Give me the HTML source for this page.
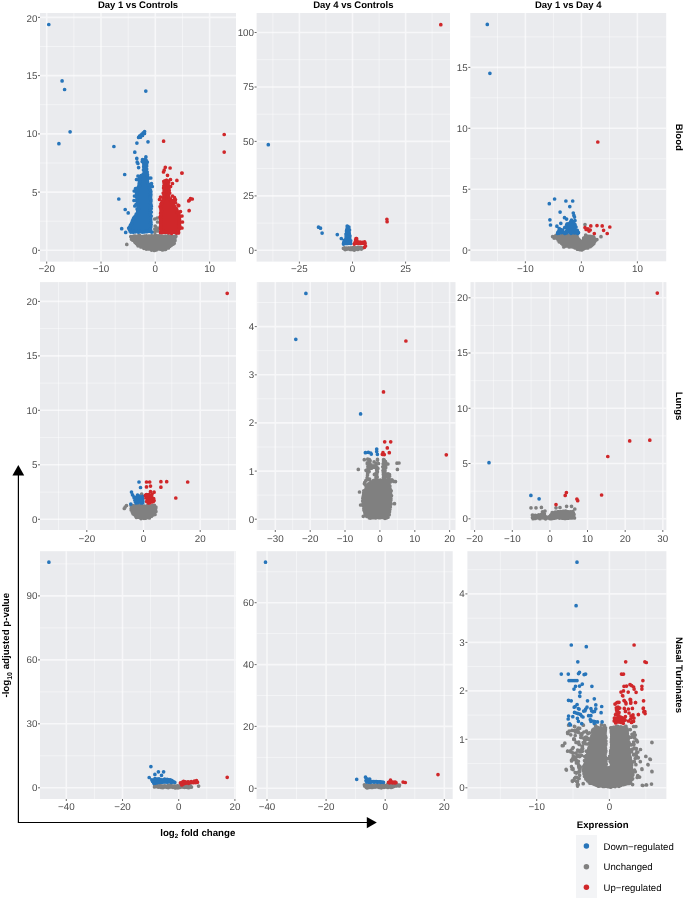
<!DOCTYPE html>
<html><head><meta charset="utf-8"><style>html,body{margin:0;padding:0;background:#fff;width:685px;height:899px;overflow:hidden}</style></head>
<body>
<svg width="685" height="899" viewBox="0 0 685 899" style="display:block;will-change:transform">
<rect width="685" height="899" fill="#fff"/>
<rect x="40" y="13" width="196" height="248.6" fill="#EAEBEE"/>
<path d="M73.9 13V261.6M128.2 13V261.6M182.5 13V261.6M40 221.2H236M40 163H236M40 104.7H236M40 46.5H236" stroke="#fff" stroke-opacity="0.45" stroke-width="1" fill="none"/>
<path d="M46.7 13V261.6M101 13V261.6M155.3 13V261.6M209.6 13V261.6M40 250.3H236M40 192.1H236M40 133.9H236M40 75.6H236M40 17.4H236" stroke="#fff" stroke-opacity="0.62" stroke-width="1.6" fill="none"/>
<path d="M46.7 261.6v2M101 261.6v2M155.3 261.6v2M209.6 261.6v2M40 250.3h-2M40 192.1h-2M40 133.9h-2M40 75.6h-2M40 17.4h-2" stroke="#444" stroke-width="0.8" fill="none"/>
<g font-family="Liberation Sans, sans-serif" font-size="9.8" fill="#4D4D4D" text-rendering="geometricPrecision">
<text x="46.7" y="272.1" text-anchor="middle">−20</text>
<text x="101" y="272.1" text-anchor="middle">−10</text>
<text x="155.3" y="272.1" text-anchor="middle">0</text>
<text x="209.6" y="272.1" text-anchor="middle">10</text>
<text x="37.4" y="253.7" text-anchor="end">0</text>
<text x="37.4" y="195.5" text-anchor="end">5</text>
<text x="37.4" y="137.3" text-anchor="end">10</text>
<text x="37.4" y="79" text-anchor="end">15</text>
<text x="37.4" y="22.3" text-anchor="end">20</text>
</g>
<rect x="256.6" y="13" width="193.4" height="248.6" fill="#EAEBEE"/>
<path d="M272.9 13V261.6M325.9 13V261.6M379.1 13V261.6M432.1 13V261.6M256.6 223.1H450M256.6 168.6H450M256.6 114.2H450M256.6 59.7H450" stroke="#fff" stroke-opacity="0.45" stroke-width="1" fill="none"/>
<path d="M299.4 13V261.6M352.5 13V261.6M405.6 13V261.6M256.6 250.3H450M256.6 195.9H450M256.6 141.4H450M256.6 87H450M256.6 32.5H450" stroke="#fff" stroke-opacity="0.62" stroke-width="1.6" fill="none"/>
<path d="M299.4 261.6v2M352.5 261.6v2M405.6 261.6v2M256.6 250.3h-2M256.6 195.9h-2M256.6 141.4h-2M256.6 87h-2M256.6 32.5h-2" stroke="#444" stroke-width="0.8" fill="none"/>
<g font-family="Liberation Sans, sans-serif" font-size="9.8" fill="#4D4D4D" text-rendering="geometricPrecision">
<text x="299.4" y="272.1" text-anchor="middle">−25</text>
<text x="352.5" y="272.1" text-anchor="middle">0</text>
<text x="405.6" y="272.1" text-anchor="middle">25</text>
<text x="254" y="253.7" text-anchor="end">0</text>
<text x="254" y="199.3" text-anchor="end">25</text>
<text x="254" y="144.8" text-anchor="end">50</text>
<text x="254" y="90.4" text-anchor="end">75</text>
<text x="254" y="35.9" text-anchor="end">100</text>
</g>
<rect x="470.3" y="13" width="195.9" height="248.3" fill="#EAEBEE"/>
<path d="M497.5 13V261.3M553.4 13V261.3M609.4 13V261.3M470.3 219.7H666.2M470.3 158.8H666.2M470.3 97.8H666.2M470.3 36.9H666.2" stroke="#fff" stroke-opacity="0.45" stroke-width="1" fill="none"/>
<path d="M525.4 13V261.3M581.4 13V261.3M637.4 13V261.3M470.3 250.1H666.2M470.3 189.2H666.2M470.3 128.3H666.2M470.3 67.4H666.2" stroke="#fff" stroke-opacity="0.62" stroke-width="1.6" fill="none"/>
<path d="M525.4 261.3v2M581.4 261.3v2M637.4 261.3v2M470.3 250.1h-2M470.3 189.2h-2M470.3 128.3h-2M470.3 67.4h-2" stroke="#444" stroke-width="0.8" fill="none"/>
<g font-family="Liberation Sans, sans-serif" font-size="9.8" fill="#4D4D4D" text-rendering="geometricPrecision">
<text x="525.4" y="272.1" text-anchor="middle">−10</text>
<text x="581.4" y="272.1" text-anchor="middle">0</text>
<text x="637.4" y="272.1" text-anchor="middle">10</text>
<text x="467.7" y="253.5" text-anchor="end">0</text>
<text x="467.7" y="192.6" text-anchor="end">5</text>
<text x="467.7" y="131.7" text-anchor="end">10</text>
<text x="467.7" y="70.8" text-anchor="end">15</text>
</g>
<rect x="40" y="282.1" width="196" height="247.9" fill="#EAEBEE"/>
<path d="M58.5 282.1V530M115.2 282.1V530M171.8 282.1V530M228.6 282.1V530M40 492.1H236M40 437.6H236M40 383.1H236M40 328.6H236" stroke="#fff" stroke-opacity="0.45" stroke-width="1" fill="none"/>
<path d="M86.8 282.1V530M143.5 282.1V530M200.2 282.1V530M40 519.3H236M40 464.8H236M40 410.3H236M40 355.9H236M40 301.4H236" stroke="#fff" stroke-opacity="0.62" stroke-width="1.6" fill="none"/>
<path d="M86.8 530v2M143.5 530v2M200.2 530v2M40 519.3h-2M40 464.8h-2M40 410.3h-2M40 355.9h-2M40 301.4h-2" stroke="#444" stroke-width="0.8" fill="none"/>
<g font-family="Liberation Sans, sans-serif" font-size="9.8" fill="#4D4D4D" text-rendering="geometricPrecision">
<text x="86.8" y="541.6" text-anchor="middle">−20</text>
<text x="143.5" y="541.6" text-anchor="middle">0</text>
<text x="200.2" y="541.6" text-anchor="middle">20</text>
<text x="37.4" y="522.7" text-anchor="end">0</text>
<text x="37.4" y="468.2" text-anchor="end">5</text>
<text x="37.4" y="413.7" text-anchor="end">10</text>
<text x="37.4" y="359.3" text-anchor="end">15</text>
<text x="37.4" y="304.8" text-anchor="end">20</text>
</g>
<rect x="256.8" y="282.1" width="198.7" height="247.9" fill="#EAEBEE"/>
<path d="M257.9 282.1V530M292.7 282.1V530M327.6 282.1V530M362.5 282.1V530M397.3 282.1V530M432.2 282.1V530M256.8 495.1H455.5M256.8 447H455.5M256.8 398.8H455.5M256.8 350.7H455.5M256.8 302.5H455.5" stroke="#fff" stroke-opacity="0.45" stroke-width="1" fill="none"/>
<path d="M275.3 282.1V530M310.2 282.1V530M345 282.1V530M379.9 282.1V530M414.8 282.1V530M449.6 282.1V530M256.8 519.2H455.5M256.8 471.1H455.5M256.8 422.9H455.5M256.8 374.8H455.5M256.8 326.6H455.5" stroke="#fff" stroke-opacity="0.62" stroke-width="1.6" fill="none"/>
<path d="M275.3 530v2M310.2 530v2M345 530v2M379.9 530v2M414.8 530v2M449.6 530v2M256.8 519.2h-2M256.8 471.1h-2M256.8 422.9h-2M256.8 374.8h-2M256.8 326.6h-2" stroke="#444" stroke-width="0.8" fill="none"/>
<g font-family="Liberation Sans, sans-serif" font-size="9.8" fill="#4D4D4D" text-rendering="geometricPrecision">
<text x="275.3" y="541.6" text-anchor="middle">−30</text>
<text x="310.2" y="541.6" text-anchor="middle">−20</text>
<text x="345" y="541.6" text-anchor="middle">−10</text>
<text x="379.9" y="541.6" text-anchor="middle">0</text>
<text x="414.8" y="541.6" text-anchor="middle">10</text>
<text x="449.6" y="541.6" text-anchor="middle">20</text>
<text x="254.2" y="522.6" text-anchor="end">0</text>
<text x="254.2" y="474.5" text-anchor="end">1</text>
<text x="254.2" y="426.3" text-anchor="end">2</text>
<text x="254.2" y="378.2" text-anchor="end">3</text>
<text x="254.2" y="330" text-anchor="end">4</text>
</g>
<rect x="470.5" y="282.1" width="195.9" height="247.9" fill="#EAEBEE"/>
<path d="M493.4 282.1V530M531.1 282.1V530M568.7 282.1V530M606.4 282.1V530M644 282.1V530M470.5 491.2H666.4M470.5 435.9H666.4M470.5 380.7H666.4M470.5 325.4H666.4" stroke="#fff" stroke-opacity="0.45" stroke-width="1" fill="none"/>
<path d="M474.6 282.1V530M512.3 282.1V530M549.9 282.1V530M587.5 282.1V530M625.2 282.1V530M662.8 282.1V530M470.5 518.8H666.4M470.5 463.5H666.4M470.5 408.3H666.4M470.5 353H666.4M470.5 297.8H666.4" stroke="#fff" stroke-opacity="0.62" stroke-width="1.6" fill="none"/>
<path d="M474.6 530v2M512.3 530v2M549.9 530v2M587.5 530v2M625.2 530v2M662.8 530v2M470.5 518.8h-2M470.5 463.5h-2M470.5 408.3h-2M470.5 353h-2M470.5 297.8h-2" stroke="#444" stroke-width="0.8" fill="none"/>
<g font-family="Liberation Sans, sans-serif" font-size="9.8" fill="#4D4D4D" text-rendering="geometricPrecision">
<text x="474.6" y="541.6" text-anchor="middle">−20</text>
<text x="512.3" y="541.6" text-anchor="middle">−10</text>
<text x="549.9" y="541.6" text-anchor="middle">0</text>
<text x="587.5" y="541.6" text-anchor="middle">10</text>
<text x="625.2" y="541.6" text-anchor="middle">20</text>
<text x="662.8" y="541.6" text-anchor="middle">30</text>
<text x="467.9" y="522.2" text-anchor="end">0</text>
<text x="467.9" y="466.9" text-anchor="end">5</text>
<text x="467.9" y="411.7" text-anchor="end">10</text>
<text x="467.9" y="356.4" text-anchor="end">15</text>
<text x="467.9" y="301.2" text-anchor="end">20</text>
</g>
<rect x="40" y="551.2" width="196" height="247.8" fill="#EAEBEE"/>
<path d="M94.4 551.2V799M150.6 551.2V799M206.8 551.2V799M40 755.8H236M40 691.9H236M40 627.9H236M40 563.9H236" stroke="#fff" stroke-opacity="0.45" stroke-width="1" fill="none"/>
<path d="M66.3 551.2V799M122.5 551.2V799M178.7 551.2V799M234.9 551.2V799M40 787.8H236M40 723.8H236M40 659.9H236M40 595.9H236" stroke="#fff" stroke-opacity="0.62" stroke-width="1.6" fill="none"/>
<path d="M66.3 799v2M122.5 799v2M178.7 799v2M234.9 799v2M40 787.8h-2M40 723.8h-2M40 659.9h-2M40 595.9h-2" stroke="#444" stroke-width="0.8" fill="none"/>
<g font-family="Liberation Sans, sans-serif" font-size="9.8" fill="#4D4D4D" text-rendering="geometricPrecision">
<text x="66.3" y="809.5" text-anchor="middle">−40</text>
<text x="122.5" y="809.5" text-anchor="middle">−20</text>
<text x="178.7" y="809.5" text-anchor="middle">0</text>
<text x="234.9" y="809.5" text-anchor="middle">20</text>
<text x="37.4" y="791.2" text-anchor="end">0</text>
<text x="37.4" y="727.2" text-anchor="end">30</text>
<text x="37.4" y="663.3" text-anchor="end">60</text>
<text x="37.4" y="599.3" text-anchor="end">90</text>
</g>
<rect x="256.6" y="551.2" width="196.1" height="247.8" fill="#EAEBEE"/>
<path d="M296.5 551.2V799M355.6 551.2V799M414.8 551.2V799M256.6 757.4H452.7M256.6 695.5H452.7M256.6 633.6H452.7M256.6 571.8H452.7" stroke="#fff" stroke-opacity="0.45" stroke-width="1" fill="none"/>
<path d="M267 551.2V799M326.1 551.2V799M385.2 551.2V799M444.3 551.2V799M256.6 788.3H452.7M256.6 726.4H452.7M256.6 664.6H452.7M256.6 602.7H452.7" stroke="#fff" stroke-opacity="0.62" stroke-width="1.6" fill="none"/>
<path d="M267 799v2M326.1 799v2M385.2 799v2M444.3 799v2M256.6 788.3h-2M256.6 726.4h-2M256.6 664.6h-2M256.6 602.7h-2" stroke="#444" stroke-width="0.8" fill="none"/>
<g font-family="Liberation Sans, sans-serif" font-size="9.8" fill="#4D4D4D" text-rendering="geometricPrecision">
<text x="267" y="809.5" text-anchor="middle">−40</text>
<text x="326.1" y="809.5" text-anchor="middle">−20</text>
<text x="385.2" y="809.5" text-anchor="middle">0</text>
<text x="444.3" y="809.5" text-anchor="middle">20</text>
<text x="254" y="791.7" text-anchor="end">0</text>
<text x="254" y="729.8" text-anchor="end">20</text>
<text x="254" y="668" text-anchor="end">40</text>
<text x="254" y="606.1" text-anchor="end">60</text>
</g>
<rect x="467.4" y="551.2" width="199" height="247.8" fill="#EAEBEE"/>
<path d="M500.3 551.2V799M573 551.2V799M645.8 551.2V799M467.4 763.6H666.4M467.4 715.1H666.4M467.4 666.6H666.4M467.4 618.2H666.4M467.4 569.7H666.4" stroke="#fff" stroke-opacity="0.45" stroke-width="1" fill="none"/>
<path d="M536.7 551.2V799M609.4 551.2V799M467.4 787.8H666.4M467.4 739.3H666.4M467.4 690.9H666.4M467.4 642.4H666.4M467.4 593.9H666.4" stroke="#fff" stroke-opacity="0.62" stroke-width="1.6" fill="none"/>
<path d="M536.7 799v2M609.4 799v2M467.4 787.8h-2M467.4 739.3h-2M467.4 690.9h-2M467.4 642.4h-2M467.4 593.9h-2" stroke="#444" stroke-width="0.8" fill="none"/>
<g font-family="Liberation Sans, sans-serif" font-size="9.8" fill="#4D4D4D" text-rendering="geometricPrecision">
<text x="536.7" y="809.5" text-anchor="middle">−10</text>
<text x="609.4" y="809.5" text-anchor="middle">0</text>
<text x="464.8" y="791.2" text-anchor="end">0</text>
<text x="464.8" y="742.7" text-anchor="end">1</text>
<text x="464.8" y="694.3" text-anchor="end">2</text>
<text x="464.8" y="645.8" text-anchor="end">3</text>
<text x="464.8" y="597.3" text-anchor="end">4</text>
</g>
<g stroke-linecap="round" stroke-linejoin="round">
<path d="M130.9 235.2L176.2 235.2L176.5 236L175 243.2L170.6 247.7L164.8 250L155 250.8L145.3 249.8L138.3 246.5L133.7 242.3L130.4 238.3ZM362.7 248.6L362.6 248.8L361.8 249.4L360.3 250L358.1 250.5L355.6 250.8L352.8 250.9L350 250.8L347.5 250.5L345.3 250L343.8 249.4L343 248.8L342.9 248.6L343 248.4L343.8 247.8L345.3 247.2L347.5 246.7L350 246.4L352.8 246.3L355.6 246.4L358.1 246.7L360.3 247.2L361.8 247.8L362.6 248.4ZM552.2 235.9L556.2 234.5L577.8 234.5L580.8 241.9L584.9 234.6L594.3 236.1L597.2 239.9L592 247.1L580.9 250.6L568.1 247L563.8 247.5L555.8 239L552.6 237.9ZM130.9 505L154.6 504.8L156.5 506.5L156.8 511.8L155.2 515.3L149.7 518.5L143 519.3L136.4 518.1L131.9 514.4L130.6 508.9ZM366.8 484.6L372.9 479.5L388.4 479.5L390.5 484.3L391.5 492.1L392 503.6L389.5 514.1L388.2 518.8L368.9 518.8L364.4 514.5L362 504.9L362.5 492.8ZM376.7 467.5L377.8 467.5L378 478.2L375.2 478.7ZM382.6 458.7L385.2 458.5L386.4 461.2L385.8 470L386.9 478L382.6 478ZM531.9 514.8L538.1 514.5L544.6 513.6L547.5 517L551.6 512.3L555.2 511L562 510.5L569.9 510.5L574.1 511.3L574.5 514.1L574.7 519L531.6 519ZM153.7 786L157.2 784.8L191.3 784.8L191.9 787L191.4 788.3L157.3 788.3L153.9 786.4ZM364 784.2L398.7 784.2L400.6 785.5L399.6 786.3L389.9 788.3L365.4 788.3L363.8 786.8ZM591.9 729.5L593.9 727.5L600 727L606.4 727.4L606.4 767.8L603.1 777.5L596.6 786.4L589.6 783.6L584.4 778.5L582.5 770L584.5 761.3L587.5 752.3L590 742.2L591.5 733.1ZM610.2 767.9L610.2 726.8L613.1 726L626.3 726L628.5 733.2L629.5 745.1L631.5 760.1L633.5 772.1L633 779.6L629.4 784.1L619.9 786.6L612.9 786.1ZM600.8 767L616.2 767L619.8 786.7L608 787.6L597.2 786.7Z" fill="#808080"/>
<path d="M130.8 236.6h0M132.8 236.5h0M133.9 236.2h0M135.3 236.2h0M137.2 236.4h0M138.6 235.9h0M139.7 235.7h0M140.9 236.6h0M142.5 236.6h0M144.5 236.1h0M145.6 236.8h0M146.3 235.8h0M148.8 236.2h0M149.8 236.3h0M151.4 235.8h0M152.1 235.9h0M153.8 236.1h0M155.1 235.8h0M156.8 235.9h0M157.8 235.8h0M159.5 235.8h0M160.8 236.2h0M162.2 236.2h0M164 236.6h0M165.1 236.1h0M166.6 236.8h0M167.8 235.8h0M169.4 236.8h0M170.6 236.1h0M172.1 236.7h0M173.8 236.5h0M175.5 236.5h0M175.8 235.9h0M175.9 236.3h0M174.9 237.3h0M175 238.8h0M175 240.5h0M174.4 241.3h0M174.2 243.3h0M173 244.2h0M171.7 244.8h0M170.9 245.6h0M169.5 246.4h0M168.4 247.9h0M167.3 247.7h0M165.7 249.3h0M164.3 249.5h0M162.5 249.9h0M160.6 249.2h0M159.6 248.7h0M157.2 249h0M156.2 250h0M154.4 250.4h0M153.3 249.8h0M151.6 250.1h0M149.5 249h0M148.6 249h0M146.3 249.1h0M146 248.3h0M143.9 248.3h0M142.8 247h0M140.9 247h0M140 245.6h0M138.1 245.8h0M137.4 244.7h0M136.5 243.5h0M135.2 242.6h0M134.5 241.3h0M132.8 240.2h0M131.5 239.2h0M131.7 237.7h0M131.8 236.8h0M126.8 244.4h0M155.2 226h0M154.8 229h0M154.6 232h0M157.5 222h0M157.8 228h0M157.6 231h0M154.7 219h0M157.2 218h0M155.5 235h0M157 236.5h0M362.1 248.4h0M361.4 247.7h0M361 249h0M360.3 248.7h0M357.7 249.5h0M354.3 250.1h0M353 249.6h0M350.3 249.4h0M346.7 249.1h0M345.2 249.6h0M344.4 247.9h0M344 248.4h0M344.3 248.9h0M343.4 248.3h0M345 248.9h0M346.3 248h0M348.5 248.1h0M350.9 248h0M353.4 247.5h0M355.4 247.8h0M357.9 247.4h0M360.1 247.6h0M361.5 249.1h0M361.5 249h0M585 224.5h0M601 236.7h0M552.6 236.6h0M555.3 236h0M556.2 235.3h0M558.2 235.7h0M559.1 236.1h0M561.1 235.8h0M562.5 235h0M563.9 235.1h0M564.8 235.3h0M566.4 235.2h0M568.1 235.6h0M569.6 236.1h0M571 236h0M572.2 235.2h0M573.7 235h0M575 235.6h0M576.8 236.1h0M576.8 235.7h0M577.1 237.2h0M577.9 238.6h0M578.9 239.4h0M579.9 240.7h0M581.8 242.3h0M582.7 241.4h0M583.5 239.7h0M583.7 238h0M584.6 237.8h0M585.7 236.4h0M585.7 235.2h0M586.5 236.3h0M588.1 236.4h0M590 236.3h0M591.7 236.5h0M593 237.7h0M593.7 236.8h0M594.2 238.7h0M595.5 239.7h0M596.9 239.6h0M595.2 240.8h0M594.4 242.1h0M593.8 243.5h0M592.8 244.6h0M591.4 245.5h0M591.1 245.9h0M590 246.7h0M588 246.7h0M587.8 248h0M585.2 248.1h0M584.5 247.9h0M583.3 249.1h0M581.7 249.9h0M581 249.3h0M579.6 249.6h0M577.4 249.2h0M576.6 247.6h0M575.1 247.9h0M574.1 246.7h0M572.8 246.8h0M570.8 246.7h0M569.2 246.9h0M567.4 246h0M566.3 246h0M565 246.2h0M563.8 247h0M563.3 245.2h0M562.4 243.8h0M561.5 243.2h0M560.7 241.8h0M559.2 241.8h0M558.1 239.9h0M557.4 238.5h0M555.6 237.8h0M554.1 238.1h0M554.1 237.4h0M131.1 505.8h0M132.9 505.6h0M134.1 506.4h0M135.6 505.6h0M137.2 505.3h0M138.8 506.5h0M140 505.2h0M141.6 505.6h0M142.9 506.3h0M144.3 506h0M146.1 506.5h0M147.7 505.5h0M149.1 506.2h0M150.6 506.7h0M152 505.5h0M153.4 506.4h0M154.4 505.3h0M155.9 507.1h0M155.7 508.5h0M155.2 510.1h0M155.9 511.4h0M154.8 513.9h0M155 514.5h0M153 514.9h0M151.5 516.2h0M150.1 516.3h0M149.4 517.9h0M147.1 517.6h0M146 518.1h0M144 518.3h0M143 517.9h0M141 518.6h0M139.5 517.5h0M137.8 517.1h0M136.4 517.5h0M135.9 516.5h0M134.3 514.6h0M133.9 514.3h0M133.1 513.7h0M132.3 512.1h0M132.8 511.4h0M131.2 510h0M131.2 508.6h0M131.6 506.4h0M125.2 507h0M126.5 505.5h0M124.3 508.5h0M141.7 494.1h0M367.6 484.9h0M368.7 483.9h0M369.9 482.8h0M370.7 482.2h0M372.9 481.3h0M373.5 480.6h0M374.7 480h0M376.5 480.9h0M377.3 480.6h0M379.1 480.3h0M380.6 480.1h0M381.8 480.6h0M382.8 480.1h0M384.3 479.9h0M385.9 480.5h0M387.6 480.3h0M386.9 480.4h0M388 482.1h0M388.8 483.3h0M389 484.9h0M389.9 486.1h0M389.7 487.5h0M390.1 489.1h0M391.2 490.8h0M390.5 492.2h0M390.5 493.5h0M391.5 495.5h0M390.3 496.8h0M390.9 498.2h0M390.9 500h0M390.2 501.6h0M390.6 502.6h0M391 504.1h0M390.1 504.8h0M390.3 506.9h0M389.3 508.4h0M389.9 509.3h0M389.5 511.7h0M389.4 512.3h0M389.2 514.7h0M387.9 516.1h0M387.6 517.3h0M388 517.2h0M386.6 517.8h0M385 518.3h0M383.3 517.6h0M381.8 517.4h0M380.2 517.7h0M378.7 517.7h0M377.3 517.2h0M375.6 518h0M374.5 517.7h0M372.7 517.7h0M371 518h0M370.2 518.1h0M369.2 517.8h0M368.5 516.7h0M366.7 516.3h0M366.2 514.1h0M365.2 513.7h0M364.9 512.7h0M364.3 510.8h0M363.9 510.1h0M363.9 508.6h0M363.9 506.8h0M363.4 505.4h0M363.4 504.9h0M363.1 503.6h0M362.7 501.1h0M363.3 500.2h0M362.8 498.3h0M363.2 496.4h0M363.5 495.8h0M363.6 493.9h0M363.8 492.8h0M363.8 490.8h0M365.6 490.1h0M366 489.2h0M366.3 487.2h0M367.1 485.8h0M376.9 468.7h0M377 467.7h0M376.7 469.4h0M377.4 471.1h0M377.4 472h0M376.8 473.9h0M376.7 475.3h0M376.9 477.3h0M377.2 477h0M376 477.3h0M376.7 478.7h0M376.3 476.9h0M376.2 476.3h0M376.5 474.1h0M376.2 473.2h0M377.1 471.4h0M376.7 470.1h0M377.9 468.4h0M383.6 459.6h0M383.8 459.8h0M384.3 460.7h0M385.5 461.5h0M385.7 462.6h0M385.6 464.6h0M385.6 466.3h0M385.7 467.7h0M385.1 468.8h0M385 470.7h0M384.8 472h0M385.2 473.8h0M385.2 475h0M386 476.7h0M386.5 476.7h0M384.9 476.5h0M384.1 477.2h0M383.5 477.4h0M383.8 476h0M383.4 474.6h0M383.5 473.3h0M383.3 472h0M383 470.6h0M383.7 468.4h0M382.8 466.8h0M383.6 465.9h0M383.2 463.8h0M383.9 462.3h0M383.6 461.1h0M383.6 459.7h0M367.9 464.5h0M367.3 463.7h0M367.3 462.9h0M378.5 463.5h0M369.3 460h0M369.8 461.7h0M369.4 459.5h0M376.1 463.6h0M369.3 463h0M368.5 465.7h0M377.5 460.1h0M376 465.3h0M370.1 460.7h0M368.6 464h0M374.1 461.9h0M373.9 465.9h0M369.2 465.9h0M371.1 464.9h0M377.5 459.3h0M367.9 466.8h0M368.4 464.5h0M367.7 459.2h0M371.4 468.2h0M375.2 466.8h0M365.5 485h0M369.1 471.6h0M368.1 468.5h0M364.8 482.4h0M364.4 483.7h0M369 468.7h0M367.1 477.9h0M374.4 474.4h0M366 470.3h0M367.8 479.4h0M369.6 479.2h0M367.7 473.6h0M367.5 475.2h0M367.8 469.4h0M375.5 466.1h0M365.8 480.7h0M367.4 471.8h0M374.3 467.2h0M388.6 481.4h0M390.3 481.9h0M388 474.2h0M388 473.9h0M388.2 480.1h0M389.6 476.2h0M387.9 464h0M389.5 474.5h0M391.9 479.8h0M389 478.5h0M358.3 469.4h0M399 463h0M397.4 469.4h0M393.7 481.4h0M360.6 505h0M363.3 516.3h0M364.3 459.7h0M395.5 481.6h0M359.5 492h0M394.5 503.7h0M397 463.2h0M532.4 515.1h0M533.8 515.5h0M535.3 515.4h0M537.1 515.7h0M538.9 514.9h0M540.2 514.8h0M541.5 514.4h0M543.2 514.3h0M544.4 514h0M544.6 516h0M545.9 516.8h0M548.5 517.2h0M549.8 516.3h0M550.8 515h0M551.9 513.9h0M552.2 512.6h0M554.5 512.6h0M555.3 512.1h0M557.7 511.9h0M559.1 511.9h0M560.9 511.6h0M562.7 511.7h0M563.4 511.4h0M565.4 511h0M566.9 511.7h0M568.3 511.8h0M570.6 511.8h0M571 512.1h0M572.6 511.7h0M573.2 512.6h0M574 514.4h0M573.7 516.2h0M573.8 517.8h0M574.5 518h0M572.4 517.8h0M571.5 518h0M570.1 517.8h0M568.4 518.2h0M567 517.5h0M565.9 518.3h0M564.5 518.4h0M562.8 518.1h0M561.8 518.1h0M559.5 518.1h0M558.3 517.6h0M557.4 517.3h0M555.7 518h0M554.4 518.2h0M553 518.3h0M551.3 518.7h0M549.9 518.6h0M548.4 517.9h0M547 517.9h0M545.6 518.8h0M543.7 517.9h0M542.8 517.8h0M541.4 517.6h0M540 518.7h0M538.4 518h0M536.8 517.7h0M535.3 518.5h0M534.1 517.9h0M532.8 518.3h0M533 518.7h0M532.5 517.7h0M532.8 516.1h0M531 507.9h0M536 507.9h0M541.4 507.4h0M566.6 506.3h0M571.5 506.3h0M574.8 509h0M560 507.5h0M556 507.8h0M545 511h0M542.5 511.8h0M154.5 787h0M155.8 785.8h0M157.5 785.6h0M158.9 786.1h0M160.2 785.5h0M161.7 786.3h0M162.7 786.1h0M164.8 785.9h0M166.1 786.3h0M168.1 785.6h0M169.1 785.1h0M170 786.5h0M171.3 785.7h0M173.3 786.1h0M174.6 786.1h0M175.9 786.4h0M177.5 785.8h0M179 786.1h0M180 786.2h0M181.9 786.2h0M183.2 785h0M184.6 786.3h0M185.9 785.4h0M187.6 785.4h0M189.1 785.8h0M190.3 786.3h0M190.2 785.7h0M190.7 786.7h0M191.5 787.1h0M189.3 787.4h0M188.6 787.7h0M187.2 787.3h0M185.2 787.2h0M184.3 787.3h0M182.7 787h0M180.8 786.8h0M179.5 787.4h0M178 787.8h0M176.9 787.4h0M175.4 787.9h0M173.9 786.6h0M173 787.3h0M170.9 786.8h0M169.7 786.9h0M168.3 787.6h0M167.1 787.3h0M165.7 786.9h0M163.7 786.7h0M162.9 787.6h0M161 787.3h0M160.1 787.1h0M158.7 787.1h0M157.4 786.8h0M155.5 785.9h0M154.7 785.5h0M198.6 786.1h0M364.4 784.8h0M365.8 785.7h0M366.7 784.9h0M368.9 786h0M369.9 785.4h0M371.4 785.1h0M372.8 786h0M374.9 785.1h0M375.9 785.3h0M377.1 785h0M379 785.3h0M380.3 785.1h0M381.8 785.7h0M383.2 784.8h0M384.1 785.1h0M386.1 785.4h0M387.6 784.4h0M389 785.2h0M390.3 785.4h0M391.6 785.4h0M392.9 785.7h0M395 785.7h0M396.1 784.9h0M397.1 784.9h0M398.5 785.4h0M399.5 785h0M399.2 786h0M397.6 785.3h0M396.7 785.8h0M395.2 785.9h0M393.5 786.6h0M392.5 787.1h0M391.1 787.4h0M389.3 786.7h0M387.9 787.4h0M386.2 787h0M385.3 786.6h0M384 787.3h0M382.4 786.4h0M381.3 787.8h0M379.4 787.4h0M378 787h0M376.4 786.6h0M375 787.1h0M373.9 786.9h0M372.3 787.4h0M371.4 787.5h0M369.3 787.3h0M367.6 787.5h0M367.1 787.9h0M366.2 787.3h0M364.7 786h0M592.9 729.8h0M593.9 729.2h0M595 728.6h0M596 728h0M597.5 727.4h0M598.7 727.8h0M600.3 728.7h0M601.3 728.6h0M603.5 729.1h0M605.5 727.8h0M605.3 728.4h0M605.4 729.2h0M605.3 730.5h0M605.1 731.7h0M604.9 733.5h0M604.6 734.5h0M605.5 736.2h0M605.9 737.7h0M605 739.5h0M605.9 741.1h0M604.7 741.6h0M605.9 743.7h0M605.6 745.2h0M605.2 746.5h0M605.5 748.3h0M605.5 750h0M605.9 750.8h0M605.6 752.2h0M605.2 753.4h0M604.7 755.3h0M605.2 756.6h0M604.9 758.4h0M605.7 760.1h0M605.9 761.2h0M604.9 762.4h0M605.4 763.4h0M605.2 765.3h0M605.2 767.2h0M605.7 767.7h0M605.1 769.8h0M604 770.8h0M603.2 772.1h0M604 773.4h0M602.5 774.7h0M602.7 775.7h0M602.5 777.5h0M601.5 778.5h0M600.2 780.7h0M599.3 781.6h0M598.5 782.1h0M597.9 783.4h0M596.1 785h0M596.4 785.2h0M594.7 784.4h0M593.8 784.1h0M592.1 783.3h0M591.5 783.2h0M589.9 783.2h0M589 781.9h0M587.5 780.7h0M586.8 779.5h0M585.9 779h0M585.6 777.6h0M584.5 776.3h0M585.2 775.1h0M584 773.7h0M584 772.3h0M583.6 771.2h0M583 769.8h0M583.9 768.4h0M583.6 766.6h0M584.4 765.3h0M584.9 764.3h0M585.4 762.9h0M585.1 761.1h0M585.7 759.9h0M586.5 758.4h0M587.4 757.1h0M587.1 755.8h0M587.8 753.8h0M587.7 752.3h0M588.4 750.5h0M588.8 749.1h0M589.1 747.5h0M590.5 746.5h0M590.1 745h0M590.1 743.5h0M591.3 742.2h0M591.5 740.4h0M591.2 738.8h0M591.3 737.7h0M591.9 735.8h0M593 734.3h0M592.8 732.5h0M592.5 730.8h0M611.6 767.8h0M611.4 766.1h0M611.9 764.7h0M611 763h0M610.8 761.6h0M611.2 760.5h0M611 758.9h0M611.1 757.7h0M611.1 756.4h0M611.5 754.5h0M610.6 753.3h0M610.6 751.5h0M610.8 750.3h0M611.6 749h0M611.4 747.6h0M611.7 746.2h0M611.6 744.8h0M611.8 743.3h0M611.3 742.2h0M611.4 740.9h0M611.4 739h0M611.8 737.7h0M611.7 736.4h0M611.8 734.6h0M611.5 733.2h0M611.3 732.2h0M611.2 730.9h0M611.5 728.7h0M611.4 727.8h0M610.7 727.9h0M612.6 728h0M613.5 727.3h0M615 727.4h0M616.2 726.7h0M617.6 726.4h0M619.3 727.2h0M620.9 726.9h0M622.2 727.3h0M623.7 727.5h0M625.7 726.4h0M626 726.3h0M625.9 728.1h0M625.8 729.3h0M626.9 730.6h0M627.2 731.9h0M627.3 733.5h0M627.1 735.4h0M628.2 736.4h0M628.5 738.1h0M628.2 739.4h0M628.1 741.4h0M629.1 742.7h0M628.5 743.9h0M628.8 745.6h0M628 747.3h0M628.7 749h0M628.7 750h0M630 751.5h0M629.7 752.7h0M629.2 754.6h0M629.8 756.4h0M630.2 757.4h0M630.4 759.3h0M630.8 760.9h0M630.3 761.8h0M630.5 763.2h0M631.7 764.9h0M631.1 767.3h0M631.2 767.7h0M631.6 769.6h0M632.1 771.7h0M632.8 771.8h0M632 773.8h0M632.3 775.4h0M631.6 776.7h0M632.7 778.6h0M632 779.4h0M630.7 780.2h0M630.5 782.2h0M629.6 782.8h0M629.2 783.5h0M627 783.4h0M625.8 783.9h0M624.3 784.5h0M623.4 784.6h0M622.2 784.7h0M620.6 785.5h0M619.5 785.4h0M617.8 785.4h0M616.8 785.5h0M615.7 785.3h0M613.5 785h0M614.3 785.4h0M613.2 783.7h0M613.2 783h0M613 781.4h0M613.2 780.1h0M612.4 778.8h0M613.1 776.8h0M612.6 775.8h0M612.7 774.2h0M611.6 772.6h0M611.9 771h0M611.2 770.3h0M611.1 769.4h0M601.5 767.4h0M602.8 768.5h0M604.2 767.3h0M605.5 767.8h0M607.9 767.8h0M609.4 767.7h0M610.9 768.3h0M612 768.2h0M613.9 768.1h0M615.3 768.6h0M615 767.3h0M615.9 768.6h0M615.9 770.3h0M616.7 771.7h0M615.6 773.6h0M616.8 774.8h0M616.9 775.4h0M617.3 777.6h0M616.9 778.8h0M617.4 780.5h0M617.1 781.8h0M618.7 782.4h0M619 784.4h0M618.5 786.1h0M619 786.3h0M617.6 785.8h0M616.5 785.7h0M615.1 786.6h0M613.6 785.9h0M612.3 786.4h0M610.6 787.2h0M609.2 786h0M608.1 786.7h0M605.9 786.1h0M604.4 786.5h0M603 786.4h0M601.3 785.7h0M599.9 785.9h0M598.7 786.2h0M598.2 786.1h0M598.3 785.3h0M598.6 783.7h0M599.3 782.4h0M598.5 780.9h0M599.6 779.7h0M600.2 778h0M600.1 776.9h0M599.6 775h0M600.6 773.7h0M600.7 772.5h0M601.4 770.7h0M601.4 769.3h0M600.9 767.8h0M575.6 731.3h0M578.7 742h0M586.4 739.4h0M580.2 767.3h0M580.9 735.3h0M572.6 758.6h0M573.3 756.1h0M582.2 737.6h0M586.4 755.7h0M589.6 743.5h0M581.9 734.5h0M582.1 733.6h0M572 768.9h0M589.4 732.8h0M578.4 729.2h0M579 767.7h0M579.4 768.7h0M577.4 784.7h0M573.1 769.6h0M574.6 778.3h0M587.5 732.9h0M579.8 766.3h0M579.1 778.5h0M575.5 757.1h0M582.1 746.2h0M579.6 756.6h0M584.5 739.4h0M577.4 756.2h0M582.6 751.1h0M586.3 737.1h0M583.2 742.5h0M576.7 781.5h0M582.7 748.5h0M577.7 750.1h0M575.9 753.1h0M579.2 744.4h0M579.3 771.3h0M587.9 738.4h0M576.4 773.1h0M577.3 729.7h0M589.5 739.8h0M578.7 732.5h0M582.2 748.2h0M577.2 755.2h0M581.1 751.3h0M578.2 784.5h0M575.2 735.5h0M577.5 781.3h0M580.8 737.5h0M588.8 748.5h0M573.7 780.2h0M581.1 749.8h0M584.7 741.3h0M579.6 771.7h0M578.7 766.8h0M585.4 737.3h0M571.5 766.5h0M585.1 743.6h0M575.6 777.3h0M584.5 760.5h0M578.4 728.2h0M578.5 764.7h0M584.8 756.6h0M573.8 738.8h0M578.2 751h0M576.5 777.4h0M576.6 761.2h0M579.7 728.3h0M577.2 772.6h0M572.3 748.8h0M637.7 775.5h0M634.2 747.9h0M632.6 784.6h0M627.4 730h0M631.5 750.7h0M633.6 742h0M636.5 755.7h0M633.7 754.4h0M631.4 744.8h0M635.2 758.6h0M630.3 729.6h0M634 744.3h0M631.1 749.8h0M632 734.3h0M635.9 764.7h0M632.7 749.1h0M632.9 774.8h0M636.1 754.6h0M633.1 736.5h0M636.4 740.2h0M635.2 734.9h0M633.6 743.5h0M634.3 732.6h0M633.3 761.8h0M636.2 757.5h0M635.3 771.7h0M634.6 737.9h0M632.6 774.7h0M634.5 770.1h0M631.5 751.6h0M636.9 740.7h0M632.6 774.7h0M636.3 756.7h0M627 728.9h0M639.6 777.1h0M634.3 761.5h0M636.5 752.6h0M637.8 752.1h0M636.4 748.5h0M629.4 737.6h0M633.6 754.8h0M637.2 777.5h0M631.4 737.2h0M635.9 749.1h0M633.9 733.8h0M606.9 758.5h0M606.3 764.2h0M605.8 763h0M606 764.6h0M609.6 756.4h0M610.5 759.7h0M610.1 761.3h0M609.8 759h0M568.6 725.2h0M574.8 726.5h0M583.4 725.2h0M595.5 725.6h0M601.4 724.9h0M604.4 725.9h0M574.4 726.4h0M583.2 725.2h0M567.6 732.4h0M570.8 734.8h0M572 730.4h0M574.8 730.4h0M577.2 732h0M581.2 734.4h0M584 732h0M586.4 731.2h0M588 733.6h0M569.2 731.1h0M567.7 733.4h0M575.3 731.9h0M574.4 739.2h0M576 742.4h0M578.4 743.2h0M563.2 745.6h0M564.8 743.2h0M573.2 747.6h0M582.4 746h0M584.8 743.2h0M587.2 744h0M589.6 743.2h0M567.6 751.2h0M570.4 750.8h0M572.8 752.9h0M578 750.4h0M580 752h0M578.4 755.3h0M581.6 755.3h0M586.4 751.2h0M571.6 760.9h0M574.8 759.7h0M576.4 762.9h0M578.4 761.3h0M566.4 770.1h0M572.8 768.9h0M575.2 772.5h0M579.6 775.3h0M572.4 781.3h0M577.6 784.1h0M577.6 786.1h0M583.2 783.7h0M573 768.6h0M571.5 760.2h0M576.1 759.5h0M566.1 769.4h0M572.3 780.9h0M577.6 784.7h0M573.8 739.5h0M576.9 742.6h0M567.7 751h0M570.7 751.8h0M562.3 745.7h0M651.9 742.4h0M645.9 756.5h0M649.9 759.1h0M638.3 757.7h0M640.3 761.7h0M647.9 764.5h0M651.9 771.3h0M641.9 768.9h0M642.3 785.3h0M646.3 784.9h0M651.5 784.1h0M652 742.6h0M645.8 756.4h0M650.4 759.5h0M640.5 749.5h0M638.2 757.9h0M648.1 764.8h0M652 771.7h0M642.8 785.5h0M646.6 785h0M642 769.4h0M633.6 726.5h0M635.9 726.5h0M634.3 734.9h0M637.4 741.8h0M601.4 725h0M604.5 725.7h0" stroke="#808080" stroke-width="3.7" fill="none"/>
<path d="M142 159.3L146.9 158.4L147.6 160.2L147.3 170.1L148.4 176.1L149 182.2L150.6 187.3L151.7 190.2L151.7 232.5L130.4 233L127.6 229.7L128.4 226.3L130.9 221.5L133.9 216.5L136 212.3L137 206L136.5 200.9L135.5 192.1L136.9 188.4L138.5 184.2L138.5 178.4L140.8 175.6L143 172.3L142.5 165.9L142 161.9ZM346.4 225.4L348.7 225.1L349.5 228.2L350.5 233.1L351 240L351 244.3L342.5 244.3L342.5 241.4L345 238.4L345.6 233.1L346 228.1ZM566.9 227.5L571.3 224.1L575.2 224.9L576.8 232L566.2 232.5ZM134.8 499.8L141.1 498.3L141.2 501.5L134.3 501.5ZM151.4 779.2L156.1 778L164.9 778.5L171.6 779.4L174.3 781.7L175.3 782.7L169.9 783L152.8 784.2L151 781.7Z" fill="#2775BA"/>
<path d="M48.8 24.5h0M62.1 80.9h0M64.6 89.5h0M70.1 131.8h0M58.9 143.7h0M145.8 91.1h0M113.9 146.5h0M124.7 174.5h0M118.8 199h0M125.2 209.5h0M128.2 212.9h0M121.7 228.7h0M125.7 232.4h0M134.8 206h0M136.9 143.1h0M148 141.8h0M134.8 152.2h0M145.9 156.9h0M136.8 158.4h0M137.2 162.2h0M137.9 163.5h0M138.6 167.6h0M138.6 137.4h0M139.3 136.7h0M140.1 136h0M140.8 135.2h0M141.6 134.5h0M142.3 133.8h0M143.1 133.1h0M143.8 132.4h0M144.6 131.6h0M140.5 137.2h0M142.5 135.5h0M144.5 133.5h0M139.5 136h0M141.5 134.5h0M142.5 159.6h0M144 159.8h0M145.2 159.4h0M145.5 159.2h0M146.1 160.5h0M147.3 162.1h0M146.9 163.3h0M146.4 164.4h0M146.7 166h0M146.3 167.8h0M146.7 169.1h0M146.3 170.7h0M147.2 172.1h0M146.4 173.7h0M147.1 174.9h0M147.8 176.9h0M147.9 178.5h0M147.3 179.8h0M147.5 181.2h0M147.7 182.8h0M148.8 184.4h0M149.3 186.2h0M149.7 188h0M149.9 189.8h0M150.5 190.2h0M150.9 191.7h0M150.7 193.4h0M150.9 194.8h0M150.7 195.9h0M150.6 198.1h0M150.6 199h0M151 199.9h0M150.9 201.5h0M150.6 203.2h0M151 204.6h0M151.4 206.3h0M150.5 207.2h0M151.2 208.6h0M150.2 209.8h0M151.3 212h0M150.3 213.3h0M150.4 214.5h0M151.2 216.1h0M150.5 217.7h0M150.6 218.3h0M150.8 220h0M151 222.2h0M150.7 223.2h0M151.1 224.4h0M150.8 226.2h0M150.8 227.1h0M150.5 229h0M150.6 229.9h0M150.3 231.2h0M151.8 232.1h0M150.4 231.3h0M148.4 231.2h0M146.8 231.7h0M145.9 231h0M144.3 232h0M142.8 232.1h0M141.6 232h0M140 231.3h0M138.5 232.2h0M137.3 231.5h0M135.5 231.8h0M134 231.6h0M133.3 232.2h0M131.7 231.6h0M130.9 232.1h0M130.1 231.2h0M129.6 229.3h0M129.4 229.4h0M128.7 228h0M129.7 227.1h0M130.5 225h0M131.7 223.4h0M132.2 221.9h0M132.5 220.5h0M133.3 219h0M133.8 217.8h0M134.7 216.8h0M136 215.1h0M136.3 214h0M137.7 212.1h0M137.8 211h0M137.1 209.1h0M138.3 208h0M138.2 206h0M137.6 204.1h0M137.2 202.2h0M136.8 200.6h0M137.2 199h0M136.6 197.3h0M136.5 196.3h0M137.1 194.6h0M136.5 193.1h0M136.7 192.4h0M137.8 190.5h0M137.5 188.1h0M138.5 187.2h0M139.5 186.1h0M139.1 184h0M139.3 182.9h0M139.4 180.8h0M139 179.5h0M139.4 178.7h0M140 177.4h0M141.1 175.6h0M143.3 174.1h0M144.4 171.5h0M143.5 169.9h0M144.4 169h0M143.7 166.8h0M144 165.4h0M143.7 163.3h0M142.2 161.6h0M135.5 188.5h0M134.2 191h0M134.5 196h0M134 200.5h0M136 204.5h0M138.5 209h0M139.5 182h0M139 185.5h0M150.8 178h0M151.5 183.5h0M152.3 186.5h0M143.5 176h0M147.5 174.5h0M136.5 179.5h0M138 176h0M268.3 144.7h0M318.5 227.2h0M320.5 228.2h0M322.1 233.1h0M337.3 234.6h0M341.3 238.5h0M347.3 227h0M347.2 226h0M348.9 227h0M348.3 228.9h0M349.5 229.9h0M349.1 231.8h0M349.2 233.4h0M349.9 235.8h0M349.8 236.8h0M349.7 238.5h0M350.7 240.5h0M350.5 241.7h0M350 243.1h0M350.8 243.5h0M349.3 242.6h0M347.4 243.4h0M346.8 243.1h0M344.8 243.4h0M343.5 243.5h0M343.5 244.1h0M343.8 242.5h0M344 241.9h0M344.3 240.3h0M346.1 237.9h0M346.1 236.1h0M346 234h0M346.8 232.4h0M346.5 231.1h0M346.8 229.7h0M347.3 228.1h0M487.3 24.4h0M489.9 73.3h0M554.6 199h0M549.3 203.7h0M565.9 201h0M572.7 201h0M569.8 206.6h0M560.1 212.1h0M573.3 213h0M573.9 215.4h0M574.5 217.1h0M549.9 219.8h0M550.5 225h0M564.5 217.7h0M566.6 219.1h0M560.8 223.3h0M556.9 226.2h0M570 229.1h0M562.4 230.1h0M574 226.2h0M558.8 230.9h0M573.6 223.1h0M569.4 232.1h0M576 227h0M567.2 228h0M560.8 229.5h0M564.7 227.6h0M565.6 227h0M559.2 228.5h0M573.9 222.1h0M569.8 224.7h0M557.6 233.4h0M575.6 226.6h0M569.2 223.5h0M573.7 225.8h0M577.3 230.4h0M574.6 233h0M568.9 231.8h0M566.8 232.8h0M569.8 225.4h0M559.5 233h0M570.7 232.9h0M571.4 225.3h0M577.8 233.4h0M576.4 232.2h0M575 220.6h0M573.9 229.6h0M570.9 233.3h0M573.2 232.7h0M571.5 224h0M569.7 230.2h0M571.5 220.2h0M572.4 222.6h0M557.7 232.5h0M561.7 232.6h0M575.6 232h0M559 232.5h0M575.1 228.5h0M566.7 224.6h0M574.7 226.4h0M570.5 221.9h0M572.3 227.5h0M560 231.8h0M575 224.5h0M563.8 232.2h0M559.4 233.2h0M558.1 232.1h0M571.3 222.9h0M567.2 223.9h0M564.8 233.4h0M578.5 232.5h0M572.6 224h0M574.3 224.6h0M574.9 227.1h0M560.8 230.4h0M572.3 222.7h0M570 226.7h0M567.6 228h0M569.5 226.5h0M571 225.2h0M572.1 225.2h0M573.9 225h0M574.4 225.8h0M574.9 226.7h0M574.8 228h0M575.1 229.7h0M575.2 231.3h0M576.9 230.6h0M574.8 230.8h0M572.8 231.3h0M571.7 230.6h0M569.9 231.7h0M568.8 231.1h0M566.7 230.9h0M567.1 232h0M567.1 230.8h0M567.9 229h0M139 482h0M140.5 487.5h0M131.5 492.1h0M130.8 504.1h0M141.2 502.9h0M135.8 497.7h0M141.3 498.8h0M135.9 502.9h0M140.6 496.9h0M134 496.9h0M140.9 502.6h0M141 502h0M142.8 502.8h0M134.1 497.7h0M138.8 497.1h0M136.3 498.5h0M142.9 501.3h0M142.5 499.8h0M141 502.3h0M138.9 496.2h0M139.3 496.2h0M137.7 502.7h0M138.6 496h0M137.4 497.8h0M142.7 496.4h0M134.8 500h0M142.8 498.6h0M134.3 498.2h0M137.6 495h0M132.5 494.8h0M135.1 500.5h0M136.9 500.5h0M138.5 500.2h0M140.2 499.6h0M140.2 498.6h0M139.8 500.2h0M140.5 500.8h0M139.1 500.1h0M137.9 501h0M136 500.8h0M135.3 501.7h0M305.9 293.4h0M295.8 339.3h0M360.6 413.9h0M365.4 452.7h0M368.3 452.3h0M370.7 453h0M371.3 454.1h0M376.7 449h0M376.7 451.4h0M377.4 454.3h0M489 462.7h0M530.9 495.4h0M539.1 498.8h0M48.9 562.2h0M150.9 766.6h0M158.4 771.8h0M163.6 771.8h0M154.9 774.4h0M161.5 775.3h0M149.2 777.5h0M151.9 779.9h0M153.8 780.1h0M155 778.6h0M156.2 779h0M157.6 779.1h0M159 778.8h0M160.6 779.9h0M161.9 780h0M163.6 779.8h0M164.6 779.2h0M167.1 779.3h0M168.7 779.9h0M170.3 779.8h0M172 780.5h0M173.2 781.7h0M174.8 782.4h0M174.8 782.3h0M172.8 782h0M171.4 782.5h0M169.1 781.7h0M168 781.7h0M167.1 782.2h0M165.4 781.8h0M163.6 782h0M162.3 782.2h0M160.7 782.2h0M159.5 782.3h0M158 782.6h0M156.1 782.8h0M155.4 783.2h0M153.9 782.7h0M153.9 783.3h0M152.6 781.3h0M152.5 781.2h0M265.5 562.2h0M356.7 779.3h0M365.5 777.2h0M367.5 779.1h0M369.7 779.1h0M366 780.5h0M367.5 781.2h0M369 780.8h0M370.5 781.3h0M366.5 782h0M368.5 782.2h0M370.5 782.3h0M372 781.6h0M373.5 781.5h0M375 781.6h0M376.5 781.7h0M378 781.8h0M379.5 781.8h0M381 781.9h0M382.5 782.1h0M383.5 782.3h0M374 782.2h0M377.5 782.3h0M380.5 782.3h0M577 562.2h0M576.1 605.7h0M571.3 645h0M586.3 646.7h0M577.8 661.8h0M561.3 674.1h0M568.3 674.1h0M578.5 673.6h0M579.5 672.3h0M584.1 674.6h0M585.6 674.1h0M569 680.6h0M571 680.6h0M573 680.6h0M575 680.6h0M577 680.6h0M575.5 686.3h0M574 689.1h0M579.5 686.1h0M582.3 684.1h0M591.9 686.3h0M580 692.3h0M579.8 696.3h0M568.5 700.3h0M571.2 700.8h0M587.5 700.8h0M594.3 698.8h0M579.7 696h0M577.1 704.5h0M575.1 706.5h0M574.2 707.2h0M578.4 708.5h0M579.1 709.1h0M595.8 704.9h0M595.8 708.8h0M601.7 706.5h0M587 707.2h0M585.7 709.1h0M583.7 711.1h0M585 710.8h0M590.9 708.5h0M591.6 710.8h0M592.9 711.8h0M594.5 711.4h0M601.1 712.7h0M574.5 712.4h0M576.5 713.1h0M578.4 713.7h0M580.4 714.4h0M581.7 716h0M583 717h0M588.6 715.7h0M590.9 715.7h0M568.6 716h0M568.2 719h0M572.8 716.7h0M577.4 718.3h0M578.4 721.3h0M590.3 719.6h0M590.9 721.3h0M592.2 721h0M593.9 721.3h0M595.5 721.9h0M597.5 721.9h0M594.2 723.3h0M602.1 721.9h0M569.6 723.9h0M570.5 724.9h0M581.7 723.6h0" stroke="#2775BA" stroke-width="3.7" fill="none"/>
<path d="M163.4 179.9L167.5 179.1L169.3 182.3L169.8 190.1L170.2 197.3L172.6 201.5L175.2 205.5L177.7 209.5L180.2 213.3L180.2 229.8L178.4 234.3L175.1 233.5L159.8 233L159.5 225L159.5 210L160.2 203.3L162.5 199.3L162.9 190L163 183.1ZM354 240.8L355.6 237.9L357.3 237.6L358.2 241L365.4 241.4L365.1 244.5L354 244.5ZM146 496.8L149.1 496.2L149.9 501.5L146 501.5ZM181.1 784L185.3 782.5L192.5 780.9L195.7 782L196.6 782.2L196.6 781.8L191.9 782.6L181.5 783ZM617.1 721L617.5 714.6L618.8 713.7L619.5 718.4L621.3 721Z" fill="#D0272A"/>
<path d="M163.6 141.2h0M224.2 134.5h0M224.2 152.1h0M181.8 173.1h0M176.9 180.4h0M190.5 198.7h0M192.3 199h0M188.7 200.9h0M189.1 210.7h0M178.5 205.7h0M165.3 167.3h0M164.2 170.2h0M163.5 172h0M170.1 168h0M182.1 173.1h0M167.5 175.3h0M175.5 202.3h0M178.8 205.6h0M189.2 200.4h0M191.7 199h0M189.2 210.6h0M163.8 181.3h0M166.3 180.3h0M166.7 180.4h0M168.4 181.3h0M168.7 182.2h0M167.9 184.5h0M168.5 185.9h0M168.9 187.3h0M169 188.8h0M169.2 190.3h0M169.2 192h0M169.7 193.1h0M168.3 195.2h0M168.6 196.4h0M168.8 198.3h0M170.5 199.1h0M171.5 201.3h0M171.5 202.2h0M172.6 203.3h0M173.6 204.9h0M174.3 206h0M175.6 208h0M176.5 209h0M176.9 210h0M177.3 211.9h0M178.9 212.4h0M178.9 213.8h0M179 215.3h0M179.9 216.8h0M178.9 218.1h0M179.6 219.9h0M179.2 220.9h0M179.5 222.7h0M179.4 224.2h0M179.8 226h0M179.4 226.9h0M179.5 228.4h0M178.8 229.6h0M178.4 231.1h0M178.6 232.4h0M178.5 232.9h0M176.7 233.1h0M174.7 231.8h0M173.9 232.2h0M171.6 233.3h0M170.2 231.8h0M168.9 232.8h0M166.9 232.1h0M165.3 232.3h0M164.3 231.5h0M162.8 232.5h0M161.2 232.6h0M160.5 232.4h0M160.9 231.2h0M160.4 228.9h0M160.7 227.1h0M160.7 226h0M160.8 224.2h0M160.5 223.1h0M160.8 221.2h0M160.5 219.6h0M160.7 219.1h0M160 217.1h0M160.8 215.5h0M160.9 214.1h0M160.6 213.2h0M161.4 210.9h0M161.2 209.8h0M160.5 207.8h0M160.1 206.5h0M160.9 204.1h0M161.7 203.7h0M161.7 202.7h0M162.8 200.6h0M164 198.8h0M163.3 197.6h0M164 195.6h0M163.7 194.1h0M163.2 193.1h0M164.3 190.6h0M164.1 190.1h0M163.6 188h0M163.8 185.9h0M164.4 184h0M164 182.7h0M164.4 181.2h0M173 200.5h0M175.5 199.5h0M178 205h0M172.5 196h0M174.5 197.5h0M159.5 199.5h0M160.5 197h0M170.5 179.5h0M172.5 183.5h0M170.6 186.5h0M180.5 211.5h0M182 216h0M182.5 222h0M182 228h0M440.8 24.7h0M386.9 219.3h0M387.1 221.7h0M355.7 240.7h0M355.7 239.6h0M356 238.5h0M356.6 238.5h0M356.7 239.9h0M358.9 242.1h0M360.1 242h0M361.8 242.5h0M362.8 242.3h0M364.1 242.4h0M364.6 241.8h0M364.4 243.6h0M365.1 243.2h0M362.8 243h0M362.1 243.2h0M360.3 243.5h0M358.5 243.3h0M356.7 243.1h0M355 243.5h0M354.3 244.1h0M354.9 242.7h0M365.5 246h0M364.5 247.3h0M597.8 142h0M585 227.6h0M586.1 229.4h0M587.9 228.8h0M589 231.1h0M590.8 225.9h0M597 225.6h0M602.2 225.9h0M609.8 227h0M603.6 230.3h0M607.2 233.5h0M594.3 233.5h0M590.2 230h0M146.5 482h0M149.7 482h0M146.5 486.9h0M150.5 486.1h0M160.9 481.7h0M166.7 481.7h0M160.9 487.2h0M187.7 482h0M175.8 498h0M227.2 293.3h0M153.7 498.5h0M146 494.9h0M148.1 499.3h0M150.9 501.5h0M152.2 500.2h0M152.7 499.7h0M154.1 492.2h0M152.5 498.1h0M149.6 503h0M150.4 495.9h0M152.7 501.8h0M150.8 495.4h0M149.1 496.5h0M152 494.3h0M148.5 497.7h0M148.4 494.7h0M152.7 501.5h0M149.6 496.3h0M146.3 494.5h0M145.9 498h0M150.5 491.6h0M153.3 501.4h0M148.9 502.3h0M150.3 497h0M154.1 500.6h0M149.8 497.2h0M151.6 495.6h0M148.1 498.2h0M148.1 502.8h0M151.5 497.3h0M145.4 495.4h0M146.6 498h0M148.5 497.4h0M148.5 497.4h0M148.9 498.4h0M149.4 500.4h0M149.3 499.9h0M147.8 500.8h0M146.7 501.4h0M147.7 499.4h0M147.2 498.2h0M405.9 341h0M383.5 391.9h0M384.7 441.8h0M390.7 441.8h0M387.3 447.9h0M389.3 452.7h0M383 452.7h0M382.3 454.3h0M384.3 454.6h0M446.3 454.8h0M657.3 293.1h0M629.7 440.9h0M649.8 440.2h0M607.8 456.5h0M601.6 495h0M556 504.6h0M565.2 495.4h0M566.4 492.5h0M576.9 499h0M577.7 500.7h0M181.8 785h0M182.9 784.2h0M184.8 783.3h0M185.7 783.2h0M186.7 782.8h0M188.6 783.3h0M189.9 782.1h0M191.3 782.4h0M192.4 782.4h0M193.4 782.7h0M195.8 782.6h0M197.5 782.2h0M196.5 780.6h0M194.4 781.1h0M193 781.9h0M191.2 781.5h0M189.9 782.1h0M188.3 781.9h0M187.3 782.2h0M185.4 781.8h0M183.6 781.4h0M183 781.5h0M180.4 782.9h0M227.2 777.3h0M390.5 780.2h0M395.3 782h0M395.7 782.5h0M390.9 781.2h0M403.1 782.1h0M405.3 782.5h0M438 774.6h0M388.5 782.3h0M390 781.8h0M391.5 782.2h0M393 782.2h0M394.5 782.3h0M396 782.6h0M389.5 782.8h0M392.5 782.8h0M395 782.9h0M634.1 645h0M625.7 661.8h0M644.9 661.8h0M646.3 662.5h0M621.5 674.1h0M623.5 674.1h0M642.9 680.6h0M624 686.3h0M626.5 686.1h0M630 684.6h0M631.6 685.6h0M633.6 687.1h0M634.1 689.1h0M641.9 686.3h0M641.9 689.1h0M621 692.1h0M623.5 690.9h0M622.5 695.6h0M628.2 692.1h0M636.1 692.3h0M643.6 700.8h0M624 700.6h0M626 703.1h0M630.6 699.6h0M630.9 702.6h0M635.6 702.6h0M615 704.1h0M618 702.3h0M643.4 708.1h0M644.9 711.6h0M645.1 713.6h0M638.4 714.6h0M622.8 695.9h0M615.2 704.1h0M617 702.6h0M619 702.3h0M624.3 700.5h0M625.4 702h0M626 703.8h0M630.1 699.4h0M630.7 701.4h0M630.7 703.2h0M635.4 702.6h0M643.5 700.8h0M643.2 708.4h0M643.8 711.9h0M638.3 714.6h0M624.3 708.4h0M628.4 709h0M632.4 708.4h0M633 714.9h0M630.7 719h0M633.6 721.3h0M625.4 711.4h0M625.4 716.6h0M629 713h0M631 716h0M628.5 721h0M631.5 722.5h0M634 718h0M618.1 717h0M618.8 715.4h0M620.9 717.4h0M621 722.4h0M619.3 722h0M623 722.9h0M617.7 721.9h0M623.3 723.3h0M616.3 713.7h0M622.9 718.1h0M623.7 719.2h0M617.2 710.5h0M614.4 718.1h0M616.7 710.5h0M621.7 717.5h0M621.8 718.2h0M618 707.1h0M618.7 708.5h0M615.5 714.6h0M617.6 719.5h0M616.3 707.8h0M617.9 713.2h0M625.1 720.1h0M614.2 720.9h0M615.7 722.9h0M618.7 718.6h0M615.8 719.8h0M617.3 712.4h0M617.2 719.9h0M617.7 712.7h0M616.5 709.8h0M619 712.4h0M622.6 720.6h0M619.7 708h0M618.1 720.5h0M617.6 719h0M617.7 717.7h0M618.2 715.3h0M618.8 715.4h0M618.6 714.5h0M618.7 715.4h0M618.8 717h0M619.4 719h0M619.4 720.2h0M620 719.8h0M618.2 720h0" stroke="#D0272A" stroke-width="3.7" fill="none"/>
</g>
<g font-family="Liberation Sans, sans-serif" font-weight="bold" font-size="9.5" fill="#000" text-anchor="middle" text-rendering="geometricPrecision">
<text x="138" y="8">Day 1 vs Controls</text>
<text x="353.3" y="8">Day 4 vs Controls</text>
<text x="568.2" y="8">Day 1 vs Day 4</text>
<text transform="translate(675.8 137.3) rotate(90)">Blood</text>
<text transform="translate(675.8 406) rotate(90)">Lungs</text>
<text transform="translate(675.8 675) rotate(90)">Nasal Turbinates</text>
<text x="197.8" y="835.6" font-size="9.7">log<tspan font-size="6.2" dy="2.6">2</tspan><tspan dy="-2.6"> fold change</tspan></text>
<text transform="translate(9.3 645.2) rotate(-90)" font-size="9.7">-log<tspan font-size="7" dy="2.6">10</tspan><tspan dy="-2.6"> adjusted p-value</tspan></text>
</g>
<path d="M18.4 475V822.5H367" stroke="#000" stroke-width="1.2" fill="none"/>
<path d="M18.3 465L12.4 475.6H24.2Z" fill="#000"/>
<path d="M376.8 822.6L366.8 816.9V828.3Z" fill="#000"/>
<text x="576.8" y="827.7" font-family="Liberation Sans, sans-serif" font-weight="bold" font-size="9.6" text-rendering="geometricPrecision">Expression</text>
<rect x="576" y="835" width="21" height="63" fill="#F3F4F6"/>
<circle cx="586.4" cy="846" r="2.75" fill="#2775BA"/><circle cx="586.4" cy="866.7" r="2.75" fill="#808080"/><circle cx="586.4" cy="887.3" r="2.75" fill="#D0272A"/>
<g font-family="Liberation Sans, sans-serif" font-size="9.6" fill="#000" text-rendering="geometricPrecision">
<text x="603.6" y="849.5">Down−regulated</text><text x="603.6" y="870.2">Unchanged</text><text x="603.6" y="890.8">Up−regulated</text>
</g>
</svg>
</body></html>
